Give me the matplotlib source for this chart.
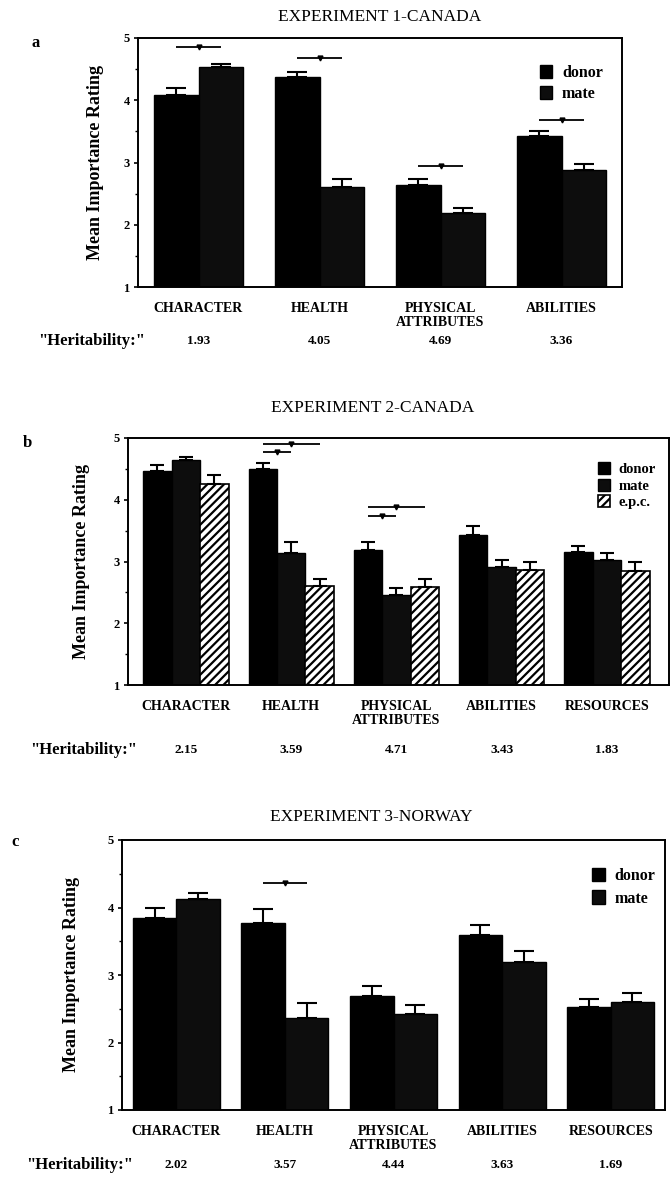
import matplotlib
matplotlib.use('Agg')
import matplotlib.pyplot as plt
import matplotlib.transforms as mtransforms
import numpy as np

plt.rcParams['font.family'] = ['Liberation Serif', 'DejaVu Serif']
plt.rcParams['hatch.linewidth'] = 1.6

# --- data ---
cats_a = ['CHARACTER', 'HEALTH', 'PHYSICAL\nATTRIBUTES', 'ABILITIES']
cats_bc = ['CHARACTER', 'HEALTH', 'PHYSICAL\nATTRIBUTES', 'ABILITIES', 'RESOURCES']

# experiment 1 - Canada
donor_a = [4.09, 4.38, 2.64, 3.43]
donor_a_err = [0.11, 0.08, 0.10, 0.07]
mate_a = [4.53, 2.60, 2.19, 2.88]
mate_a_err = [0.06, 0.13, 0.08, 0.10]
herit_a = ['1.93', '4.05', '4.69', '3.36']
sig_a = [(0, 4.86), (1, 4.68), (2, 2.94), (3, 3.68)]

# experiment 2 - Canada
donor_b = [4.46, 4.50, 3.18, 3.43, 3.15]
donor_b_err = [0.10, 0.09, 0.13, 0.15, 0.10]
mate_b = [4.64, 3.13, 2.45, 2.91, 3.02]
mate_b_err = [0.05, 0.18, 0.12, 0.12, 0.11]
epc_b = [4.26, 2.61, 2.59, 2.86, 2.84]
epc_b_err = [0.14, 0.11, 0.12, 0.13, 0.15]
herit_b = ['2.15', '3.59', '4.71', '3.43', '1.83']
# (category, height, compared series: 1=mate, 2=e.p.c.)
sig_b = [(1, 4.91, 2), (1, 4.78, 1), (2, 3.88, 2), (2, 3.74, 1)]

# experiment 3 - Norway
donor_c = [3.84, 3.77, 2.69, 3.60, 2.52]
donor_c_err = [0.15, 0.21, 0.14, 0.14, 0.13]
mate_c = [4.13, 2.37, 2.42, 3.20, 2.60]
mate_c_err = [0.09, 0.21, 0.14, 0.15, 0.13]
herit_c = ['2.02', '3.57', '4.44', '3.63', '1.69']
sig_c = [(1, 4.36)]

W, H = 670, 1179
fig = plt.figure(figsize=(W / 100, H / 100), dpi=100)


def px_rect(l, t, r, b):
    return [l / W, 1 - b / H, (r - l) / W, (b - t) / H]


def style_axes(ax, cats, nlim, ylabelpad):
    ax.set_ylim(1, 5)
    ax.set_xlim(-0.5, nlim - 0.5)
    ax.set_yticks([1, 2, 3, 4, 5])
    ax.set_yticks(np.arange(1.5, 5, 0.5), minor=True)
    ax.tick_params(axis='y', which='major', direction='out', length=3, width=1.2, labelsize=9, pad=3)
    ax.tick_params(axis='y', which='minor', direction='out', length=2, width=1)
    for lab in ax.get_yticklabels():
        lab.set_fontweight('bold')
    ax.set_xticks(range(len(cats)))
    ax.set_xticklabels(cats, fontsize=10, fontweight='bold', linespacing=1.1, va='top')
    ax.tick_params(axis='x', length=0, pad=11)
    for s in ax.spines.values():
        s.set_linewidth(1.4)
    ax.set_ylabel('Mean Importance Rating', fontsize=13, fontweight='bold', labelpad=ylabelpad)


def sig_line(ax, x1, x2, y):
    ax.plot([x1, x2], [y, y], color='black', lw=1.3, solid_capstyle='butt')
    ax.plot([(x1 + x2) / 2], [y], marker='v', color='black', ms=3.5)


def heritability(ax, vals, y_px, label_x):
    tr = mtransforms.blended_transform_factory(ax.transData, fig.transFigure)
    for i, v in enumerate(vals):
        ax.text(i, 1 - y_px / H, v, transform=tr, ha='center', va='center',
                fontsize=9.5, fontweight='bold', clip_on=False)
    fig.text(label_x / W, 1 - y_px / H, '"Heritability:"', ha='center', va='center',
             fontsize=12, fontweight='bold')


# ---------------- panel a ----------------
ax = fig.add_axes(px_rect(138, 38, 622, 287))
x = np.arange(len(cats_a))
w = 0.37
ax.bar(x - w / 2, donor_a, w, color='black', edgecolor='black', label='donor')
ax.bar(x + w / 2, mate_a, w, color='#0d0d0d', edgecolor='black', label='mate')
ax.errorbar(x - w / 2, donor_a, yerr=[np.zeros(len(x)), donor_a_err], fmt='none',
            ecolor='black', elinewidth=1.5, capsize=7, capthick=1.5)
ax.errorbar(x + w / 2, mate_a, yerr=[np.zeros(len(x)), mate_a_err], fmt='none',
            ecolor='black', elinewidth=1.5, capsize=7, capthick=1.5)
for i, y in sig_a:
    sig_line(ax, i - w / 2, i + w / 2, y)
style_axes(ax, cats_a, len(cats_a), 14)
ax.legend(loc='upper left', bbox_to_anchor=(0.80, 0.95), frameon=False,
          handlelength=0.8, handleheight=0.9, handletextpad=0.6, labelspacing=0.3,
          prop={'weight': 'bold', 'size': 11.5})
fig.text(380 / W, 1 - 17 / H, 'EXPERIMENT 1-CANADA', ha='center', va='center', fontsize=12.5)
fig.text(36 / W, 1 - 43 / H, 'a', ha='center', va='center', fontsize=12, fontweight='bold')
heritability(ax, herit_a, 341, 92)

# ---------------- panel b ----------------
ax = fig.add_axes(px_rect(128, 438, 669, 685))
x = np.arange(len(cats_bc))
w = 0.27
ax.bar(x - w, donor_b, w, color='black', edgecolor='black', label='donor')
ax.bar(x, mate_b, w, color='#0d0d0d', edgecolor='black', label='mate')
ax.bar(x + w, epc_b, w, color='white', edgecolor='black', hatch='////', lw=1.2, label='e.p.c.')
for off, vals, errs in [(-w, donor_b, donor_b_err), (0, mate_b, mate_b_err), (w, epc_b, epc_b_err)]:
    ax.errorbar(x + off, vals, yerr=[np.zeros(len(x)), errs], fmt='none',
                ecolor='black', elinewidth=1.5, capsize=5, capthick=1.5)
for i, y, k in sig_b:
    sig_line(ax, i - w, i - w + k * w, y)
style_axes(ax, cats_bc, len(cats_bc), 17)
ax.set_xlim(-0.55, 4.59)
ax.legend(loc='upper left', bbox_to_anchor=(0.845, 0.955), frameon=False,
          handlelength=0.8, handleheight=0.9, handletextpad=0.6, labelspacing=0.15,
          prop={'weight': 'bold', 'size': 10.5})
fig.text(373 / W, 1 - 408 / H, 'EXPERIMENT 2-CANADA', ha='center', va='center', fontsize=12.5)
fig.text(27 / W, 1 - 443 / H, 'b', ha='center', va='center', fontsize=12, fontweight='bold')
heritability(ax, herit_b, 750, 84)

# ---------------- panel c ----------------
ax = fig.add_axes(px_rect(122, 840, 665, 1110))
x = np.arange(len(cats_bc))
w = 0.40
ax.bar(x - w / 2, donor_c, w, color='black', edgecolor='black', label='donor')
ax.bar(x + w / 2, mate_c, w, color='#0d0d0d', edgecolor='black', label='mate')
ax.errorbar(x - w / 2, donor_c, yerr=[np.zeros(len(x)), donor_c_err], fmt='none',
            ecolor='black', elinewidth=1.5, capsize=7, capthick=1.5)
ax.errorbar(x + w / 2, mate_c, yerr=[np.zeros(len(x)), mate_c_err], fmt='none',
            ecolor='black', elinewidth=1.5, capsize=7, capthick=1.5)
for i, y in sig_c:
    sig_line(ax, i - w / 2, i + w / 2, y)
style_axes(ax, cats_bc, len(cats_bc), 20)
ax.legend(loc='upper left', bbox_to_anchor=(0.84, 0.95), frameon=False,
          handlelength=0.8, handleheight=0.9, handletextpad=0.6, labelspacing=0.4,
          prop={'weight': 'bold', 'size': 11.5})
fig.text(371 / W, 1 - 817 / H, 'EXPERIMENT 3-NORWAY', ha='center', va='center', fontsize=12.5)
fig.text(15 / W, 1 - 842 / H, 'c', ha='center', va='center', fontsize=12, fontweight='bold')
heritability(ax, herit_c, 1165, 80)

fig.savefig('out.png', dpi=100)
